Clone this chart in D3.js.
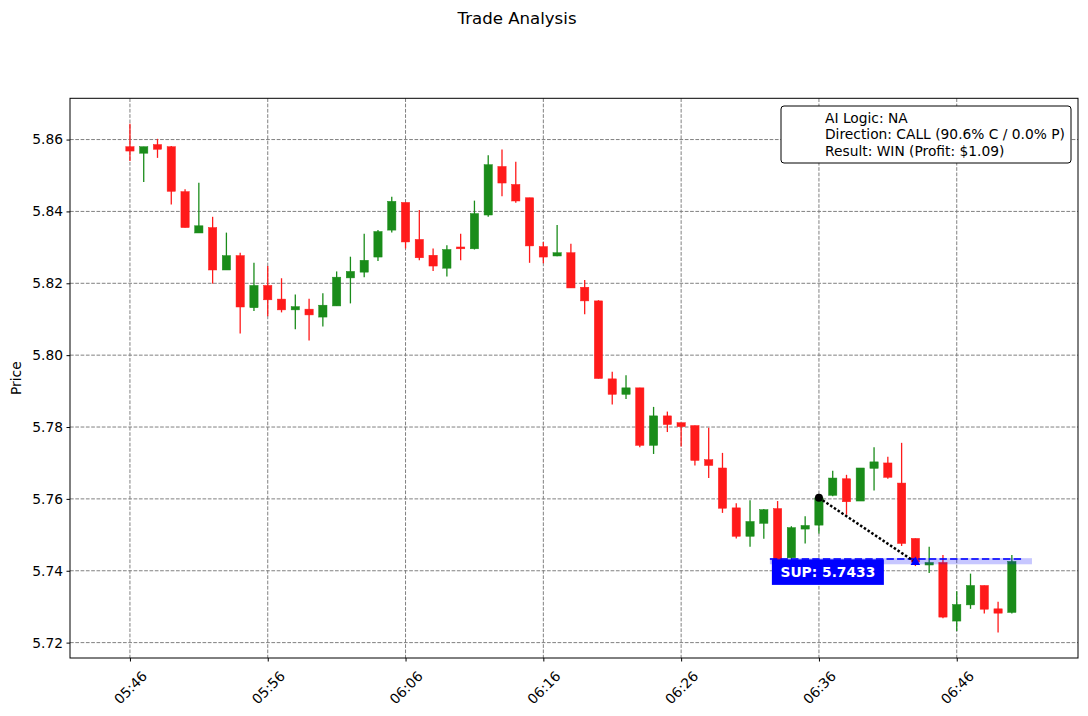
<!DOCTYPE html>
<html>
<head>
<meta charset="utf-8">
<script src="https://cdn.jsdelivr.net/npm/d3@7"></script>
<style>
  body { margin: 0; background: #fff; }
  svg { font-family: "DejaVu Sans", sans-serif; }
</style>
</head>
<body>
<div id="chart"></div>
<script>
/***DATA***/
const times = ["05:46","05:47","05:48","05:49","05:50","05:51","05:52","05:53","05:54","05:55",
  "05:56","05:57","05:58","05:59","06:00","06:01","06:02","06:03","06:04","06:05",
  "06:06","06:07","06:08","06:09","06:10","06:11","06:12","06:13","06:14","06:15",
  "06:16","06:17","06:18","06:19","06:20","06:21","06:22","06:23","06:24","06:25",
  "06:26","06:27","06:28","06:29","06:30","06:31","06:32","06:33","06:34","06:35",
  "06:36","06:37","06:38","06:39","06:40","06:41","06:42","06:43","06:44","06:45",
  "06:46","06:47","06:48","06:49","06:50"];

const opens = [5.8580,5.8562,5.8586,5.8580,5.8455,5.8340,5.8355,5.8237,5.8277,5.8132,
  5.8194,5.8156,5.8126,5.8128,5.8106,5.8137,5.8215,5.8231,5.8273,5.8348,
  5.8425,5.8322,5.8278,5.8242,5.8301,5.8296,5.8390,5.8525,5.8475,5.8438,
  5.8302,5.8276,5.8285,5.8189,5.8151,5.7934,5.7891,5.7909,5.7749,5.7831,
  5.7812,5.7804,5.7709,5.7686,5.7575,5.7496,5.7532,5.7573,5.7436,5.7516,
  5.7527,5.7610,5.7656,5.7594,5.7685,5.7700,5.7644,5.7490,5.7416,5.7423,
  5.7260,5.7305,5.7359,5.7294,5.7284];
const highs = [5.8644,5.8580,5.8602,5.8582,5.8462,5.8480,5.8385,5.8341,5.8285,5.8257,
  5.8248,5.8214,5.8169,5.8157,5.8172,5.8233,5.8274,5.8338,5.8348,5.8441,
  5.8425,5.8404,5.8297,5.8306,5.8338,5.8430,5.8556,5.8572,5.8538,5.8438,
  5.8315,5.8362,5.8310,5.8209,5.8153,5.7954,5.7944,5.7909,5.7856,5.7843,
  5.7812,5.7804,5.7798,5.7728,5.7588,5.7596,5.7572,5.7594,5.7524,5.7552,
  5.7606,5.7678,5.7667,5.7686,5.7744,5.7717,5.7756,5.7490,5.7467,5.7444,
  5.7343,5.7392,5.7359,5.7314,5.7444];
const lows = [5.8540,5.8482,5.8549,5.8419,5.8355,5.8340,5.8199,5.8237,5.8060,5.8123,
  5.8108,5.8119,5.8072,5.8041,5.8080,5.8137,5.8144,5.8217,5.8262,5.8341,
  5.8297,5.8264,5.8234,5.8219,5.8264,5.8294,5.8385,5.8442,5.8424,5.8257,
  5.8256,5.8275,5.8187,5.8114,5.7935,5.7863,5.7878,5.7744,5.7725,5.7786,
  5.7746,5.7693,5.7658,5.7561,5.7490,5.7467,5.7489,5.7425,5.7430,5.7476,
  5.7504,5.7607,5.7556,5.7594,5.7623,5.7656,5.7469,5.7413,5.7394,5.7268,
  5.7232,5.7294,5.7281,5.7228,5.7281];
const closes = [5.8568,5.8580,5.8573,5.8456,5.8355,5.8360,5.8237,5.8277,5.8134,5.8194,
  5.8154,5.8126,5.8135,5.8112,5.8139,5.8217,5.8233,5.8264,5.8344,5.8428,
  5.8315,5.8271,5.8248,5.8294,5.8296,5.8394,5.8530,5.8479,5.8429,5.8304,
  5.8273,5.8285,5.8187,5.8151,5.7935,5.7891,5.7909,5.7749,5.7831,5.7807,
  5.7801,5.7707,5.7693,5.7574,5.7496,5.7537,5.7570,5.7430,5.7520,5.7526,
  5.7603,5.7658,5.7592,5.7686,5.7703,5.7660,5.7476,5.7424,5.7423,5.7271,
  5.7306,5.7359,5.7293,5.7282,5.7426];

const tickLabels = ["05:46","05:56","06:06","06:16","06:26","06:36","06:46"];
const yTicks = [5.72, 5.74, 5.76, 5.78, 5.80, 5.82, 5.84, 5.86];

// support level and trade path
const supportLevel = 5.7433;
const supportBand = [5.7418, 5.7435];
const supportFrom = 46.44, supportTo = 65.46, supportDashTo = 64.9;
const entryIdx = 50, entryPrice = 5.7603;
const exitIdx = 57, exitPrice = 5.7424;

const legendLines = ["AI Logic: NA", "Direction: CALL (90.6% C / 0.0% P)", "Result: WIN (Profit: $1.09)"];

/***CHART***/
const W = 1088, H = 716;
const margin = {top: 98.3, right: 10, bottom: 58, left: 70};
const width = W - margin.left - margin.right;
const height = H - margin.top - margin.bottom;
const fs = 13.8;

const candles = times.map((t, i) => ({i: i, t: t, o: opens[i], h: highs[i], l: lows[i], c: closes[i]}));

const svg = d3.select("#chart").append("svg")
    .attr("width", W)
    .attr("height", H);

svg.append("text")
    .attr("x", 517)
    .attr("y", 24)
    .attr("text-anchor", "middle")
    .attr("font-size", 16.6)
    .text("Trade Analysis");

const g = svg.append("g")
    .attr("transform", "translate(" + margin.left + "," + margin.top + ")");

let x = d3.scaleLinear().domain([-4.35, 68.8]).range([0, width]);
let lo = d3.min(lows), hi = d3.max(highs);
let pad = (hi - lo) * 0.05;
let y = d3.scaleLinear().domain([lo - pad, hi + pad]).range([height, 0]);

const tickIdx = tickLabels.map(l => times.indexOf(l));

// grid
g.append("g").selectAll("line")
    .data(tickIdx)
    .enter().append("line")
    .attr("x1", d => x(d)).attr("x2", d => x(d))
    .attr("y1", 0).attr("y2", height)
    .attr("stroke", "#808080")
    .attr("stroke-width", 1)
    .attr("stroke-dasharray", "3.7,1.6");
g.append("g").selectAll("line")
    .data(yTicks)
    .enter().append("line")
    .attr("x1", 0).attr("x2", width)
    .attr("y1", d => y(d)).attr("y2", d => y(d))
    .attr("stroke", "#808080")
    .attr("stroke-width", 1)
    .attr("stroke-dasharray", "3.7,1.6");

// candles
const red = "#ff1a1a", green = "#1a8c1a";
const bw = x(0.6) - x(0);
const cg = g.append("g");
cg.selectAll(".wick")
    .data(candles)
    .enter().append("line")
    .attr("class", "wick")
    .attr("x1", d => x(d.i)).attr("x2", d => x(d.i))
    .attr("y1", d => y(d.h)).attr("y2", d => y(d.l))
    .attr("stroke", d => d.c >= d.o ? green : red)
    .attr("stroke-width", 1.3);
cg.selectAll(".body")
    .data(candles)
    .enter().append("rect")
    .attr("class", "body")
    .attr("x", d => x(d.i) - bw / 2)
    .attr("width", bw)
    .attr("y", d => y(Math.max(d.o, d.c)))
    .attr("height", d => Math.max(1, Math.abs(y(d.o) - y(d.c))))
    .attr("fill", d => d.c >= d.o ? green : red)
    .attr("stroke", d => d.c >= d.o ? green : red)
    .attr("stroke-width", 0.5);

// support band + line
g.append("rect")
    .attr("x", x(supportFrom))
    .attr("width", x(supportTo) - x(supportFrom))
    .attr("y", y(supportBand[1]))
    .attr("height", y(supportBand[0]) - y(supportBand[1]))
    .attr("fill", "#0000ff")
    .attr("fill-opacity", 0.22);
g.append("line")
    .attr("x1", x(supportFrom)).attr("x2", x(supportDashTo))
    .attr("y1", y(supportLevel)).attr("y2", y(supportLevel))
    .attr("stroke", "#0000ff")
    .attr("stroke-opacity", 0.8)
    .attr("stroke-width", 2)
    .attr("stroke-dasharray", "7.4,3.2");

// trade path
g.append("line")
    .attr("x1", x(entryIdx)).attr("y1", y(entryPrice))
    .attr("x2", x(exitIdx)).attr("y2", y(exitPrice))
    .attr("stroke", "#000")
    .attr("stroke-width", 2.5)
    .attr("stroke-dasharray", "2.5,2");
g.append("circle")
    .attr("cx", x(entryIdx)).attr("cy", y(entryPrice))
    .attr("r", 4)
    .attr("fill", "#000");
g.append("path")
    .attr("transform", "translate(" + x(exitIdx) + "," + y(exitPrice) + ")")
    .attr("d", d3.symbol().type(d3.symbolTriangle).size(40))
    .attr("fill", "#0000ff");

// support label
const lbl = g.append("g")
    .attr("transform", "translate(" + (x(supportFrom) + 2) + "," + y(supportLevel) + ")");
lbl.append("rect")
    .attr("x", 0).attr("y", 0.5)
    .attr("width", 112).attr("height", 25.5)
    .attr("fill", "#0000ff");
lbl.append("text")
    .attr("x", 56).attr("y", 13.5)
    .attr("text-anchor", "middle")
    .attr("dominant-baseline", "central")
    .attr("fill", "#fff")
    .attr("font-weight", "bold")
    .attr("font-size", fs)
    .text("SUP: " + supportLevel.toFixed(4));

// axes frame
g.append("rect")
    .attr("width", width).attr("height", height)
    .attr("fill", "none")
    .attr("stroke", "#000")
    .attr("stroke-width", 1);

// y axis
let ya = g.append("g")
    .call(d3.axisLeft(y).tickValues(yTicks).tickSize(3.5).tickPadding(3.5).tickFormat(d3.format(".2f")));
ya.select(".domain").remove();
ya.selectAll("text").attr("font-size", fs).attr("fill", "#000").attr("font-family", "DejaVu Sans");

// x axis
let xa = g.append("g")
    .attr("transform", "translate(0," + height + ")")
    .call(d3.axisBottom(x).tickValues(tickIdx).tickSize(3.5).tickFormat(d => times[d]));
xa.select(".domain").remove();
xa.selectAll("text")
    .attr("font-size", fs)
    .attr("fill", "#000")
    .attr("font-family", "DejaVu Sans")
    .attr("text-anchor", "middle")
    .attr("dominant-baseline", "central")
    .attr("dy", null)
    .attr("y", 0)
    .attr("transform", "translate(0,29.5) rotate(-45)");

svg.append("text")
    .attr("transform", "translate(21," + (margin.top + height / 2) + ") rotate(-90)")
    .attr("text-anchor", "middle")
    .attr("font-size", fs)
    .text("Price");

// legend
const lg = svg.append("g").attr("transform", "translate(781,106)");
lg.append("rect")
    .attr("width", 290).attr("height", 57)
    .attr("rx", 3)
    .attr("fill", "#fff")
    .attr("stroke", "#000")
    .attr("stroke-width", 1);
lg.selectAll("text")
    .data(legendLines)
    .enter().append("text")
    .attr("x", 44)
    .attr("y", (d, i) => 12 + i * 16.3)
    .attr("dominant-baseline", "central")
    .attr("font-size", fs)
    .text(d => d);
</script>
</body>
</html>
